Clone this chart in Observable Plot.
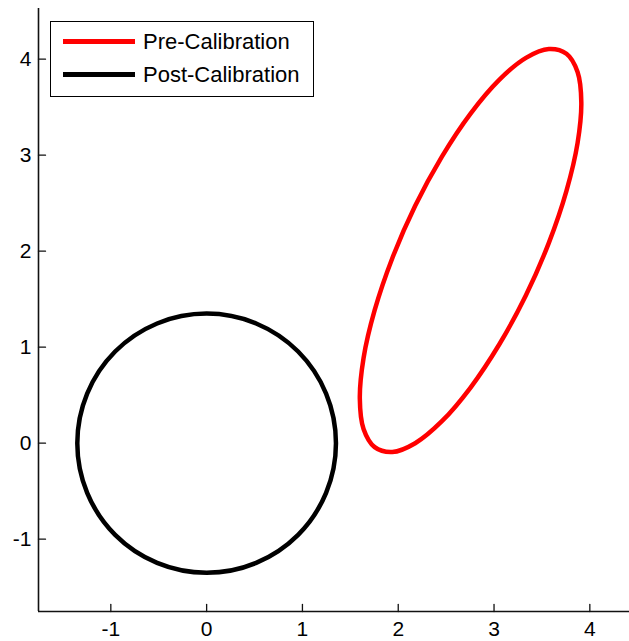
<!DOCTYPE html>
<html>
<head>
<meta charset="utf-8">
<script src="https://cdn.jsdelivr.net/npm/d3@7"></script>
<script src="https://cdn.jsdelivr.net/npm/@observablehq/plot@0.6"></script>
<style>
  body { margin: 0; background: #fff; }
  #wrap { position: relative; width: 629px; height: 641px; }
  #legend { position: absolute; left: 50px; top: 21px; width: 262px; height: 74px;
            border: 1px solid #000; background: #fff;
            font-family: "Liberation Sans", Arial, sans-serif; font-size: 22px; color: #000; }
  .row { position: absolute; left: 0; width: 262px; height: 30px; }
  .sample { position: absolute; left: 12px; width: 72px; height: 5px; top: 12px; }
  .lbl { position: absolute; left: 92px; top: 0; line-height: 30px; white-space: nowrap; }
</style>
</head>
<body>
<div id="wrap"></div>
<script>
// Series names and colours
const seriesNames = ["Pre-Calibration", "Post-Calibration"];
const seriesColors = ["#ff0000", "#000000"];

// Pre-Calibration ellipse, points (going round the curve)
const preX = [3.911, 3.872, 3.756, 3.572, 3.333, 3.054, 2.755, 2.456, 2.177, 1.938, 1.754, 1.638,
              1.599, 1.638, 1.754, 1.938, 2.177, 2.456, 2.755, 3.054, 3.333, 3.572, 3.756, 3.872];
const preY = [3.549, 3.866, 4.056, 4.106, 4.014, 3.785, 3.434, 2.986, 2.473, 1.927, 1.385, 0.887,
              0.465, 0.148, -0.041, -0.092, 0.000, 0.229, 0.580, 1.028, 1.541, 2.087, 2.629, 3.127];

// Post-Calibration circle, points
const postX = [1.35, 1.247, 0.955, 0.517, 0.0, -0.517, -0.955, -1.247, -1.35, -1.247, -0.955, -0.517, 0.0, 0.517, 0.955, 1.247];
const postY = [0.0, 0.517, 0.955, 1.247, 1.35, 1.247, 0.955, 0.517, 0.0, -0.517, -0.955, -1.247, -1.35, -1.247, -0.955, -0.517];

// Axes
const xTicks = [-1, 0, 1, 2, 3, 4];
const yTicks = [-1, 0, 1, 2, 3, 4];
const xTickLabels = ["-1", "0", "1", "2", "3", "4"];
const yTickLabels = ["-1", "0", "1", "2", "3", "4"];
const xDomain = [-1.755, 4.414];
const yDomain = [-1.753, 4.528];

const pre = preX.map((x, i) => ({x, y: preY[i]}));
const post = postX.map((x, i) => ({x, y: postY[i]}));

const tickShape = { draw(context, l) { context.moveTo(0, 0); context.lineTo(0, -l); } };

const chart = Plot.plot({
  width: 629,
  height: 641,
  marginLeft: 38,
  marginRight: 0,
  marginTop: 8,
  marginBottom: 30,
  style: { fontSize: "21px", fontFamily: "Liberation Sans, Arial, sans-serif", color: "#000", background: "#fff" },
  x: { domain: xDomain, label: null },
  y: { domain: yDomain, label: null },
  marks: [
    Plot.line(pre, { x: "x", y: "y", stroke: seriesColors[0], strokeWidth: 4.5, curve: "catmull-rom-closed" }),
    Plot.line(post, { x: "x", y: "y", stroke: seriesColors[1], strokeWidth: 4.5, curve: "catmull-rom-closed" }),
    Plot.ruleX([xDomain[0]], { stroke: "#111", strokeWidth: 1.6 }),
    Plot.ruleY([yDomain[0]], { stroke: "#111", strokeWidth: 1.6 }),
    Plot.vector(xTicks, { x: d => d, frameAnchor: "bottom", length: 7, rotate: 0, anchor: "start", shape: tickShape, stroke: "#111", strokeWidth: 1.3 }),
    Plot.vector(yTicks, { y: d => d, frameAnchor: "left", length: 7, rotate: 90, anchor: "start", shape: tickShape, stroke: "#111", strokeWidth: 1.3 }),
    Plot.axisX(xTicks, { tickSize: 0, tickPadding: 10, tickFormat: d => xTickLabels[xTicks.indexOf(d)] }),
    Plot.axisY(yTicks, { tickSize: 0, tickPadding: 7, tickFormat: d => yTickLabels[yTicks.indexOf(d)] })
  ]
});

const wrap = document.getElementById("wrap");
wrap.appendChild(chart);

const legend = document.createElement("div");
legend.id = "legend";
const rowTops = [5, 38];
seriesNames.forEach((name, i) => {
  const row = document.createElement("div");
  row.className = "row";
  row.style.top = rowTops[i] + "px";
  const s = document.createElement("div");
  s.className = "sample";
  s.style.background = seriesColors[i];
  const t = document.createElement("div");
  t.className = "lbl";
  t.textContent = name;
  row.appendChild(s);
  row.appendChild(t);
  legend.appendChild(row);
});
wrap.appendChild(legend);
</script>
</body>
</html>
